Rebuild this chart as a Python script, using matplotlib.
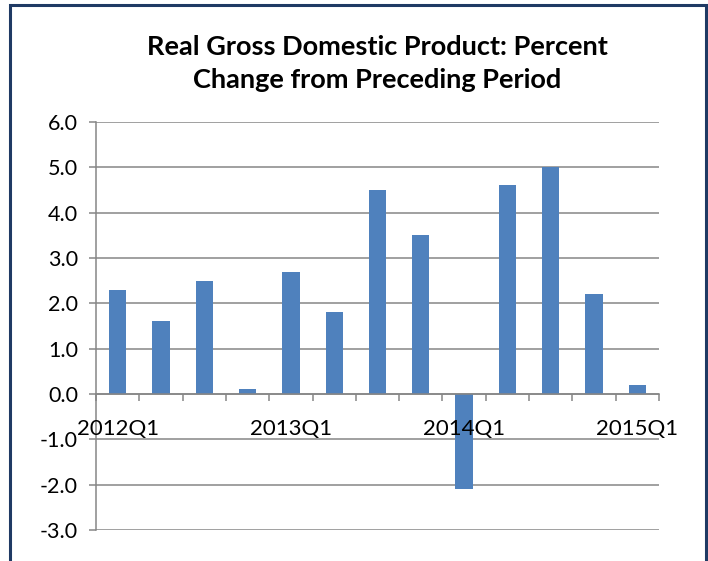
import matplotlib
matplotlib.use("Agg")
import matplotlib.pyplot as plt
from matplotlib.patches import Rectangle
import numpy as np

quarters = ["2012Q1", "2012Q2", "2012Q3", "2012Q4",
            "2013Q1", "2013Q2", "2013Q3", "2013Q4",
            "2014Q1", "2014Q2", "2014Q3", "2014Q4",
            "2015Q1"]
values = [2.3, 1.6, 2.5, 0.1, 2.7, 1.8, 4.5, 3.5, -2.1, 4.6, 5.0, 2.2, 0.2]
yticks = [-3.0, -2.0, -1.0, 0.0, 1.0, 2.0, 3.0, 4.0, 5.0, 6.0]
title = "Real Gross Domestic Product: Percent\nChange from Preceding Period"

plt.rcParams['font.family'] = ['Lato', 'DejaVu Sans']

fig = plt.figure(figsize=(7.08, 5.61), dpi=100)
ax = fig.add_axes([96/708, 1-530/561, (659-96)/708, (530-122)/561])

x = np.arange(len(quarters))
ax.bar(x, values, width=0.4, color="#4F81BD", zorder=2)

ax.set_xlim(-0.5, len(quarters)-0.5)
ax.set_ylim(-3, 6)
ax.set_axisbelow(True)
ax.set_yticks(yticks)
ax.set_yticklabels([f"{v:.1f}" for v in yticks])
ax.yaxis.grid(True, color="#868686", linewidth=1.1)
ax.tick_params(axis='y', length=5, width=1.1, color="#868686", pad=8, labelsize=15.5)

label_idx = [i for i, q in enumerate(quarters) if q.endswith("Q1")]
ax.set_xticks(label_idx)
ax.set_xticklabels([quarters[i] for i in label_idx])
ax.set_xticks(np.arange(-0.5, len(quarters)), minor=True)
ax.tick_params(axis='x', which='major', length=0, pad=18, labelsize=16)
ax.tick_params(axis='x', which='minor', length=5, width=1.1, color="#868686", direction='out')
ax.xaxis.set_zorder(5)

for s in ['top', 'right']:
    ax.spines[s].set_visible(False)
ax.spines['bottom'].set_position(('data', 0))
ax.spines['bottom'].set_color("#868686")
ax.spines['bottom'].set_linewidth(1.1)
ax.spines['bottom'].set_zorder(4)
ax.spines['left'].set_color("#868686")
ax.spines['left'].set_linewidth(1.1)

fig.text(377/708, 1-64/561, title, ha='center', va='center', fontsize=19.5,
         fontweight='bold', linespacing=1.45)

fig.patches.append(Rectangle((10/708, -0.1), (706-10)/708, 1.1 - 5/561,
                             transform=fig.transFigure, fill=False,
                             edgecolor="#1F3A64", linewidth=2.2))

fig.savefig("out.png", dpi=100)
